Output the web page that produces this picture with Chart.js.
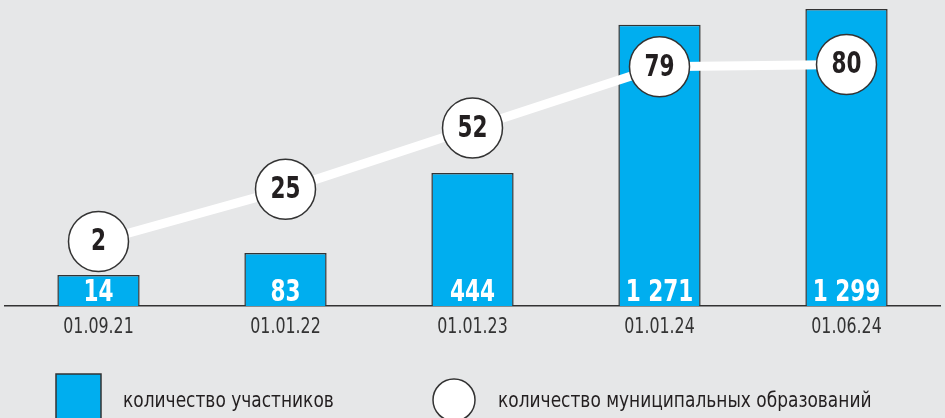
<!DOCTYPE html>
<html>
<head>
<meta charset="utf-8">
<script src="https://cdn.jsdelivr.net/npm/chart.js@4"></script>
<style>
  html, body { margin: 0; padding: 0; background: #E6E7E8; }
  #wrap { width: 945px; height: 418px; }
</style>
</head>
<body>
<div id="wrap"><canvas id="chart" width="945" height="418"></canvas></div>
<script>
(() => {
  // данные
  const dates = ["01.09.21", "01.01.22", "01.01.23", "01.01.24", "01.06.24"];
  const participants = [14, 83, 444, 1271, 1299];
  // высота столбцов в % от высоты графика, как нарисовано (не в масштабе)
  const participantBarHeights = [10.3, 17.6, 44.2, 93.4, 98.7];
  const municipalities = [2, 25, 52, 79, 80];
  const legendLabels = ["количество участников", "количество муниципальных образований"];

  const FONT = "'DejaVu Sans Condensed', 'DejaVu Sans', sans-serif";
  const BLUE = "#00AEEF";
  const DARK = "#333333";
  const INK = "#231F20";

  const fmt = (n) => String(n).replace(/\B(?=(\d{3})+(?!\d))/g, " ");

  // узкий шрифт: сжимаем текст по горизонтали
  const narrowText = (ctx, text, x, y, sx, align) => {
    ctx.save();
    ctx.translate(x, y);
    ctx.scale(sx, 1);
    ctx.textAlign = align || "center";
    ctx.fillText(text, 0, 0);
    ctx.restore();
  };

  const valueLabels = {
    id: "valueLabels",
    afterDatasetsDraw: (chart) => {
      const ctx = chart.ctx;
      ctx.save();

      // белые числа внизу столбцов
      chart.getDatasetMeta(1).data.forEach((bar, i) => {
        ctx.font = "bold 30px " + FONT;
        ctx.fillStyle = "#FFFFFF";
        ctx.textBaseline = "alphabetic";
        narrowText(ctx, fmt(participants[i]), bar.x, bar.base - 5, 0.8);
      });

      // чёрные числа в кружках
      chart.getDatasetMeta(0).data.forEach((pt, i) => {
        ctx.font = "bold 30px " + FONT;
        ctx.fillStyle = INK;
        ctx.textBaseline = "middle";
        narrowText(ctx, String(municipalities[i]), pt.x, pt.y + 1, 0.8);
      });

      // подписи дат под осью
      const xs = chart.scales.x;
      ctx.font = "22px " + FONT;
      ctx.fillStyle = DARK;
      ctx.textBaseline = "middle";
      dates.forEach((d, i) => {
        narrowText(ctx, d, xs.getPixelForValue(i), 327, 0.8);
      });
      ctx.restore();
    },
    afterDraw: (chart) => {
      // легенда внизу
      const ctx = chart.ctx;
      ctx.save();
      ctx.lineWidth = 1.5;
      ctx.strokeStyle = DARK;

      ctx.fillStyle = BLUE;
      ctx.fillRect(56, 374, 45, 50);
      ctx.strokeRect(56, 374, 45, 50);

      ctx.beginPath();
      ctx.arc(454, 400, 21, 0, Math.PI * 2);
      ctx.fillStyle = "#FFFFFF";
      ctx.fill();
      ctx.stroke();

      ctx.font = "21px " + FONT;
      ctx.fillStyle = INK;
      ctx.textBaseline = "middle";
      narrowText(ctx, legendLabels[0], 123, 402, 0.9, "left");
      narrowText(ctx, legendLabels[1], 498, 402, 0.9, "left");
      ctx.restore();
    }
  };

  new Chart(document.getElementById("chart").getContext("2d"), {
    type: "bar",
    data: {
      labels: dates,
      datasets: [
        {
          type: "line",
          label: legendLabels[1],
          data: municipalities,
          yAxisID: "y2",
          borderColor: "#FFFFFF",
          borderWidth: 9,
          pointRadius: 30,
          pointHoverRadius: 30,
          pointBackgroundColor: "#FFFFFF",
          pointBorderColor: DARK,
          pointBorderWidth: 1.5,
          tension: 0,
          clip: false,
          order: 0
        },
        {
          label: legendLabels[0],
          data: participantBarHeights,
          yAxisID: "y",
          backgroundColor: BLUE,
          borderColor: DARK,
          borderWidth: 1.5,
          barPercentage: 0.88,
          categoryPercentage: 0.5,
          order: 1
        }
      ]
    },
    options: {
      responsive: false,
      animation: false,
      layout: { autoPadding: false, padding: { left: 5, right: 5, top: 5, bottom: 112 } },
      plugins: {
        legend: { display: false },
        tooltip: { enabled: false }
      },
      scales: {
        x: {
          grid: { display: false, drawTicks: false },
          border: { display: true, color: DARK, width: 1.5 },
          ticks: { display: false }
        },
        y: { display: false, min: 0, max: 100 },
        y2: { display: false, min: -26.4, max: 106.2 }
      }
    },
    plugins: [valueLabels]
  });
})();
</script>
</body>
</html>
